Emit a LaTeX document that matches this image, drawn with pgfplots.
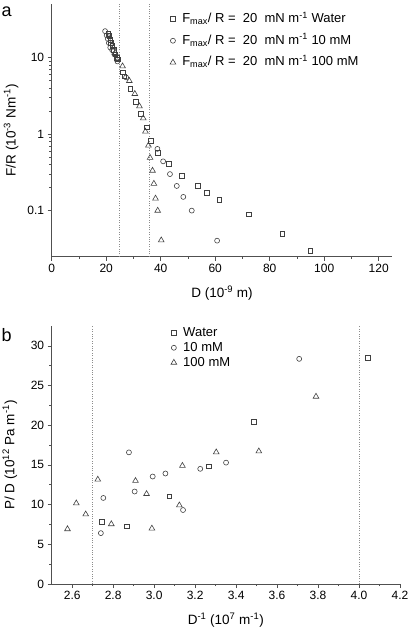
\documentclass[border=0pt]{standalone}
\usepackage{fontspec}
\setmainfont{Liberation Sans}
\usepackage{pgfplots}
\pgfplotsset{compat=1.18}
\definecolor{axgray}{HTML}{505050}
\definecolor{mkgray}{HTML}{404040}
\pgfplotsset{
  origin/.style={
    scale only axis,
    axis x line*=bottom, axis y line*=left,
    axis line style={axgray, line width=0.7pt, -},
    tick align=outside,
    tick style={axgray, line width=0.6pt},
    major tick length=4pt, minor tick length=2.2pt,
    /pgf/number format/assume math mode=true,
    tick label style={font=\fontsize{12}{14}\selectfont},
    clip=false,
    legend cell align=left,
    legend style={draw=none, fill=none, inner sep=0pt, font=\fontsize{13}{15}\selectfont,
      nodes={inner xsep=6.5pt, inner ysep=0pt, text height=9.5pt, text depth=2.5pt}},
  },
  sq/.style={only marks, mark=square, mark size=2.3pt, mkgray, mark options={line width=0.6pt, fill=none}},
  ci/.style={only marks, mark=o, mark size=2.5pt, mkgray, mark options={line width=0.6pt, fill=none}},
  tr/.style={only marks, mark=triangle, mark size=3.3pt, mkgray, mark options={line width=0.6pt, fill=none}},
  dl/.style={black!45, dash pattern=on 0.8pt off 1.6pt, line width=0.8pt, forget plot},
}
\begin{document}
\begin{tikzpicture}
\useasboundingbox (0,0) rectangle (409pt,630pt);
% ---------------- panel a ----------------
\begin{axis}[origin,
  at={(51.7pt,373.3pt)}, anchor=south west,
  width=340.6pt, height=252.7pt,
  xmin=0, xmax=125, ymode=log, ymin=0.025, ymax=50,
  xtick={0,20,40,60,80,100,120}, minor x tick num=1,
  ytick={0.1,1,10}, yticklabels={0.1,1,10},
  xlabel={D (10\textsuperscript{-9} m)},
  ylabel={F/R (10\textsuperscript{-3} Nm\textsuperscript{-1})},
  every axis x label/.style={at={(axis description cs:0.5,-0.1437)}, anchor=center, font=\fontsize{13.5}{16}\selectfont},
  every axis y label/.style={at={(axis description cs:-0.1195,0.5)}, rotate=90, anchor=center, font=\fontsize{13.5}{16}\selectfont},
  legend style={at={(axis description cs:0.347,0.965)}, anchor=north west, row sep=9.7pt},
]
\addplot[dl] coordinates {(25,0.025) (25,50)};
\addplot[dl] coordinates {(36,0.025) (36,50)};
\addplot[sq] coordinates {
(20.8,20.5)(21.1,19.2)(21.5,17)(21.8,15.5)(22.3,14.2)(22.8,12.5)(23.3,11)(23.9,10)(24.3,9.5)
(26.1,6.4)(26.7,5.7)(28.8,3.9)(30.8,2.66)(32.8,1.84)(34.9,1.23)(36.4,0.82)(38.9,0.573)
(43.0,0.41)(47.8,0.287)(53.6,0.21)(56.9,0.17)(61.5,0.139)(72.4,0.09)(84.6,0.05)(94.9,0.030)};
\addlegendentry{F\textsubscript{max}/ R =\ \ 20\ \ mN m\textsuperscript{-1} Water}
\addplot[ci] coordinates {
(19.6,22.1)(20.2,19.5)(20.6,17.5)(21.0,15.5)(21.5,13.5)(22.2,12.5)(23.0,11)(24.1,8.9)
(27.3,5.5)(38.8,0.64)(40.9,0.44)(43.4,0.30)(45.9,0.21)(48.3,0.151)(51.4,0.1)(60.7,0.0405)};
\addlegendentry{F\textsubscript{max}/ R =\ \ 20\ \ mN m\textsuperscript{-1} 10 mM}
\addplot[tr] coordinates {
(22.6,13.5)(23.3,11.5)(26.0,7.7)(28.5,4.95)(30.5,3.35)(32.2,2.31)(33.6,1.61)(34.4,1.08)
(35.5,0.71)(36.1,0.49)(37.0,0.333)(37.5,0.225)(38.1,0.144)(38.9,0.10)(40.2,0.041)};
\addlegendentry{F\textsubscript{max}/ R =\ \ 20\ \ mN m\textsuperscript{-1} 100 mM}
\end{axis}
% ---------------- panel b ----------------
\begin{axis}[origin,
  at={(51.7pt,46pt)}, anchor=south west,
  width=348.3pt, height=258pt,
  xmin=2.5, xmax=4.2, ymin=0, ymax=32.5,
  xtick={2.6,2.8,3.0,3.2,3.4,3.6,3.8,4.0,4.2},
  xticklabels={2.6,2.8,3.0,3.2,3.4,3.6,3.8,4.0,4.2},
  minor x tick num=1,
  ytick={0,5,10,15,20,25,30}, minor y tick num=1,
  xlabel={D\textsuperscript{-1} (10\textsuperscript{7} m\textsuperscript{-1})},
  ylabel={P/ D (10\textsuperscript{12} Pa m\textsuperscript{-1})},
  every axis x label/.style={at={(axis description cs:0.5,-0.1395)}, anchor=center, font=\fontsize{13.5}{16}\selectfont},
  every axis y label/.style={at={(axis description cs:-0.12,0.5)}, rotate=90, anchor=center, font=\fontsize{13.5}{16}\selectfont},
  legend style={at={(axis description cs:0.342,0.997)}, anchor=north west, row sep=2.8pt},
]
\addplot[dl] coordinates {(2.7,0) (2.7,32.5)};
\addplot[dl] coordinates {(4.0,0) (4.0,32.5)};
\addplot[sq] coordinates {
(2.745,7.85)(2.867,7.26)(3.074,11.05)(3.268,14.85)(3.485,20.46)(4.043,28.53)};
\addlegendentry{Water}
\addplot[ci] coordinates {
(2.740,6.41)(2.752,10.84)(2.877,16.58)(2.905,11.65)(2.993,13.54)(3.055,13.92)(3.141,9.32)
(3.225,14.51)(3.351,15.29)(3.708,28.36)};
\addlegendentry{10 mM}
\addplot[tr] coordinates {
(2.577,6.92)(2.620,10.17)(2.666,8.78)(2.725,13.16)(2.791,7.55)(2.909,13.0)(2.963,11.35)
(2.989,7.0)(3.123,9.92)(3.138,14.9)(3.303,16.6)(3.511,16.72)(3.790,23.61)};
\addlegendentry{100 mM}
\end{axis}
\node[anchor=base west, inner sep=0pt, font=\fontsize{18}{20}\selectfont] at (1.5pt,613.3pt) {a};
\node[anchor=base west, inner sep=0pt, font=\fontsize{18}{20}\selectfont] at (1.5pt,288.3pt) {b};
\end{tikzpicture}
\end{document}
